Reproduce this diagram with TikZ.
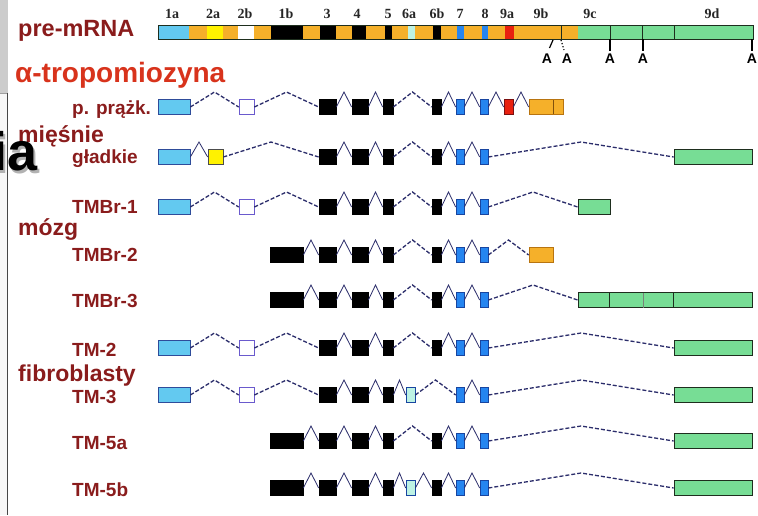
\documentclass[tikz,border=0pt]{standalone}
\usepackage{fontspec}
\setmainfont{Liberation Sans}
\newfontfamily\numfont{Liberation Serif}
\usetikzlibrary{calc}

\definecolor{maroon}{HTML}{8A1C1C}
\definecolor{titlered}{HTML}{D8331C}
\definecolor{dashC}{HTML}{2B2D6B}
\definecolor{skyC}{HTML}{63C9F0}
\definecolor{skyD}{HTML}{2E4C9A}
\definecolor{ambC}{HTML}{F5B02A}
\definecolor{ambD}{HTML}{B87410}
\definecolor{yelC}{HTML}{FFF200}
\definecolor{whtD}{HTML}{6A5ACD}
\definecolor{aquaC}{HTML}{BDF2E4}
\definecolor{bluC}{HTML}{2585F0}
\definecolor{bluD}{HTML}{1845A0}
\definecolor{redC}{HTML}{E8200F}
\definecolor{redD}{HTML}{7A1010}
\definecolor{grnC}{HTML}{77DD95}
\definecolor{grnD}{HTML}{1E2E1E}

\tikzset{
  exon/.style={draw, line width=0.7pt, inner sep=0pt, minimum height=15},
  sky/.style={fill=skyC, draw=skyD},
  yel/.style={fill=yelC, draw=black!70},
  wht/.style={fill=white, draw=whtD},
  blk/.style={fill=black, draw=black},
  aqua/.style={fill=aquaC, draw=bluD},
  blu/.style={fill=bluC, draw=bluD},
  rd/.style={fill=redC, draw=redD},
  amb/.style={fill=ambC, draw=ambD},
  grn/.style={fill=grnC, draw=grnD},
  lng/.style={draw=dashC, line width=1.3pt, dash pattern=on 4pt off 2pt},
  zz/.style={draw=dashC, line width=0.8pt},
  lab/.style={text=maroon, font=\bfseries\fontsize{19}{20}\selectfont, anchor=base west, inner sep=0pt},
  grp/.style={text=maroon, font=\bfseries\fontsize{23}{24}\selectfont, anchor=base west, inner sep=0pt},
  num/.style={text=black!85, font=\numfont\bfseries\fontsize{14}{14}\selectfont, inner sep=0pt},
  polyA/.style={text=black, font=\bfseries\fontsize{14}{14}\selectfont, inner sep=0pt},
}

% one exon box: style, width, name, centre x, centre y
\newcommand\exn[5]{\node[exon,#1,minimum width=#2] (#3) at (#4,#5) {};}
% intron drawn as a roof between two exons
\newcommand\intr[3]{\draw[#1] (#2.east) -- ($(#2.east)!.5!(#3.west)+(0,-15)$) -- (#3.west);}

% exon types at their positions along the gene
\newcommand\eOneA[2]{\exn{sky}{32}{#1e1a}{174}{#2}}
\newcommand\eTwoA[2]{\exn{yel}{15}{#1e2a}{215.5}{#2}}
\newcommand\eTwoB[2]{\exn{wht}{15}{#1e2b}{246.5}{#2}}
\newcommand\eOneB[2]{\exn{blk}{33}{#1e1b}{286.5}{#2}}
\newcommand\eThree[2]{\exn{blk}{17}{#1e3}{327.5}{#2}\exn{blk}{16}{#1e4}{360}{#2}\exn{blk}{10}{#1e5}{388}{#2}}
\newcommand\eSixA[2]{\exn{aqua}{9}{#1e6a}{410.5}{#2}}
\newcommand\eSixB[2]{\exn{blk}{9}{#1e6b}{436.5}{#2}}
\newcommand\eSeven[2]{\exn{blu}{8}{#1e7}{460}{#2}\exn{blu}{8}{#1e8}{484}{#2}}
\newcommand\eNineD[2]{\exn{grn}{78}{#1e9d}{713}{#2}}

\begin{document}
\begin{tikzpicture}[x=1pt,y=-1pt]
\useasboundingbox (0,0) rectangle (758,515);
\fill[white] (0,0) rectangle (758,515);

% slide frame on the left edge
\fill[gray!40] (0,0) rectangle (8,93);
\fill[gray!6] (0,93) rectangle (7.5,515);
\draw[gray!75, line width=0.8pt] (0,93) -- (8,93);
\draw[gray!55!black, line width=0.8pt] (7.5,93) -- (7.5,515);

% titles
\node[anchor=base west, inner sep=0pt, text=maroon, font=\bfseries\fontsize{23.5}{24}\selectfont] (pre) at (18,36) {pre-mRNA};
\node[anchor=base west, inner sep=0pt, text=titlered, font=\bfseries\fontsize{28}{28}\selectfont] (alpha) at (15,82) {α-tropomiozyna};

% pre-mRNA bar
\foreach \a/\b/\c in {158/189/skyC, 189/207/ambC, 207/223/yelC, 223/238/ambC, 238/254/white,
  254/271/ambC, 271/303/black, 303/320/ambC, 320/336/black, 336/352/ambC, 352/366/black,
  366/385/ambC, 385/392/black, 392/408/ambC, 408/415/aquaC, 415/433/ambC, 433/441/black,
  441/457/ambC, 457/464/bluC, 464/482/ambC, 482/488/bluC, 488/505/ambC, 505/514/redC,
  514/578/ambC, 578/753/grnC}
  \fill[\c] (\a,25) rectangle (\b,39);
\draw[grnD, line width=0.6pt] (158,25) rectangle (753,39);
\foreach \x in {561,610,642,674} \draw[grnD, line width=0.9pt] (\x,25) -- (\x,39);

% exon numbers
\foreach \x/\t in {172/1a, 213/2a, 245/2b, 286/1b, 327/3, 357/4, 388/5, 409/6a, 437/6b,
  460/7, 485/8, 507/9a, 541/9b, 590/9c, 712/9d}
  \node[num] (n\t) at (\x,14) {\t};

% polyadenylation sites
\foreach \x/\n in {547/1, 567/2, 610/3, 643/4, 752/5}
  \node[polyA] (pa\n) at (\x,59) {A};
\draw[line width=1.2pt] (553,40) -- (549.5,48);
\draw[line width=1.2pt, dotted] (561,40) -- (564,50);
\foreach \x in {610,643,752} \draw[line width=1.2pt] (\x,39) -- (\x,51);

% row labels
\node[lab] (lA) at (72,114) {p. prążk.};
\node[grp] (gM) at (18,142) {mięśnie};
\node[lab] (lB) at (72,163) {gładkie};
\node[lab] (lC) at (72,213) {TMBr-1};
\node[grp] (gB) at (18,235) {mózg};
\node[lab] (lD) at (72,261) {TMBr-2};
\node[lab] (lE) at (72,307) {TMBr-3};
\node[lab] (lF) at (72,356) {TM-2};
\node[grp] (gF) at (18,381) {fibroblasty};
\node[lab] (lG) at (72,403) {TM-3};
\node[lab] (lH) at (72,449) {TM-5a};
\node[lab] (lI) at (72,496) {TM-5b};

% row A: striated muscle
\eOneA{a}{107}\eTwoB{a}{107}\eThree{a}{107}\eSixB{a}{107}\eSeven{a}{107}
\exn{rd}{9}{ae9a}{508.5}{107}
\exn{amb}{34}{ae9b}{546}{107}
\draw[ambD!70!black, line width=0.9pt] (553,100) -- (553,114);
\intr{lng}{ae1a}{ae2b}\intr{lng}{ae2b}{ae3}\intr{zz}{ae3}{ae4}\intr{zz}{ae4}{ae5}
\intr{lng}{ae5}{ae6b}\intr{zz}{ae6b}{ae7}\intr{zz}{ae7}{ae8}\intr{zz}{ae8}{ae9a}\intr{zz}{ae9a}{ae9b}

% row B: smooth muscle
\eOneA{b}{157}\eTwoA{b}{157}\eThree{b}{157}\eSixB{b}{157}\eSeven{b}{157}\eNineD{b}{157}
\intr{zz}{be1a}{be2a}\intr{lng}{be2a}{be3}\intr{zz}{be3}{be4}\intr{zz}{be4}{be5}
\intr{lng}{be5}{be6b}\intr{zz}{be6b}{be7}\intr{zz}{be7}{be8}\intr{lng}{be8}{be9d}

% row C: TMBr-1
\eOneA{c}{207}\eTwoB{c}{207}\eThree{c}{207}\eSixB{c}{207}\eSeven{c}{207}
\exn{grn}{32}{ce9c}{594}{207}
\intr{lng}{ce1a}{ce2b}\intr{lng}{ce2b}{ce3}\intr{zz}{ce3}{ce4}\intr{zz}{ce4}{ce5}
\intr{lng}{ce5}{ce6b}\intr{zz}{ce6b}{ce7}\intr{zz}{ce7}{ce8}\intr{lng}{ce8}{ce9c}

% row D: TMBr-2
\eOneB{d}{255}\eThree{d}{255}\eSixB{d}{255}\eSeven{d}{255}
\exn{amb}{24}{de9b}{541}{255}
\intr{zz}{de1b}{de3}\intr{zz}{de3}{de4}\intr{zz}{de4}{de5}
\intr{lng}{de5}{de6b}\intr{zz}{de6b}{de7}\intr{zz}{de7}{de8}\intr{lng}{de8}{de9b}

% row E: TMBr-3
\eOneB{e}{300}\eThree{e}{300}\eSixB{e}{300}\eSeven{e}{300}
\exn{grn}{174}{ee9cd}{665}{300}
\foreach \x in {609,673} \draw[grnD, line width=0.9pt] (\x,292.5) -- (\x,307.5);
\draw[grnD!60, line width=0.6pt] (643,292.5) -- (643,307.5);
\intr{zz}{ee1b}{ee3}\intr{zz}{ee3}{ee4}\intr{zz}{ee4}{ee5}
\intr{lng}{ee5}{ee6b}\intr{zz}{ee6b}{ee7}\intr{zz}{ee7}{ee8}\intr{lng}{ee8}{ee9cd}

% row F: TM-2
\eOneA{f}{348}\eTwoB{f}{348}\eThree{f}{348}\eSixB{f}{348}\eSeven{f}{348}\eNineD{f}{348}
\intr{lng}{fe1a}{fe2b}\intr{lng}{fe2b}{fe3}\intr{zz}{fe3}{fe4}\intr{zz}{fe4}{fe5}
\intr{lng}{fe5}{fe6b}\intr{zz}{fe6b}{fe7}\intr{zz}{fe7}{fe8}\intr{lng}{fe8}{fe9d}

% row G: TM-3
\eOneA{g}{395}\eTwoB{g}{395}\eThree{g}{395}\eSixA{g}{395}\eSeven{g}{395}\eNineD{g}{395}
\intr{lng}{ge1a}{ge2b}\intr{lng}{ge2b}{ge3}\intr{zz}{ge3}{ge4}\intr{zz}{ge4}{ge5}
\intr{zz}{ge5}{ge6a}\intr{lng}{ge6a}{ge7}\intr{zz}{ge7}{ge8}\intr{lng}{ge8}{ge9d}

% row H: TM-5a
\eOneB{h}{441}\eThree{h}{441}\eSixB{h}{441}\eSeven{h}{441}\eNineD{h}{441}
\intr{zz}{he1b}{he3}\intr{zz}{he3}{he4}\intr{zz}{he4}{he5}
\intr{lng}{he5}{he6b}\intr{zz}{he6b}{he7}\intr{zz}{he7}{he8}\intr{lng}{he8}{he9d}

% row I: TM-5b
\eOneB{i}{488}\eThree{i}{488}\eSixA{i}{488}\eSixB{i}{488}\eSeven{i}{488}\eNineD{i}{488}
\intr{zz}{ie1b}{ie3}\intr{zz}{ie3}{ie4}\intr{zz}{ie4}{ie5}\intr{zz}{ie5}{ie6a}
\intr{zz}{ie6a}{ie6b}\intr{zz}{ie6b}{ie7}\intr{zz}{ie7}{ie8}\intr{lng}{ie8}{ie9d}

% heading fragment from the slide behind, with its shadow
\node[anchor=base west, inner sep=0pt, text=gray!60, font=\bfseries\fontsize{54}{54}\selectfont] (iash) at (-5.5,173) {ia};
\node[anchor=base west, inner sep=0pt, text=black, font=\bfseries\fontsize{54}{54}\selectfont] (ia) at (-8,170.5) {ia};
\end{tikzpicture}
\end{document}
